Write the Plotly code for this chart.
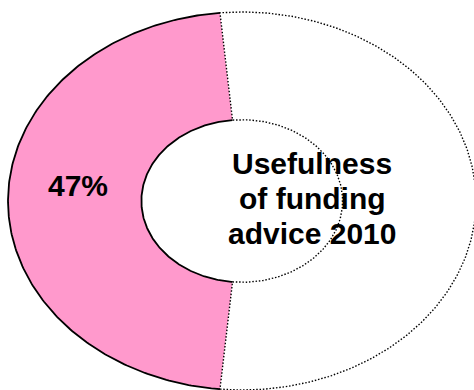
import numpy as np
import plotly.graph_objects as go

# Share of respondents per answer
categories = ["Useful", "Not useful"]
values = [47, 53]
slice_labels = ["47%", ""]
chart_title_lines = ["Usefulness", "of funding", "advice 2010"]

fill_colors = ["#FF99CC", "#FFFFFF"]
HOLE = 0.43          # inner radius as a share of the outer radius
FIRST_CENTRE = 180.0  # angle (deg, counter-clockwise from 3 o'clock) of the first slice's centre

total = float(sum(values))
spans = [v / total * 360.0 for v in values]
start = FIRST_CENTRE - spans[0] / 2.0
bounds = []
for s in spans:
    bounds.append((start, start + s))
    start += s


def arc(r, a0, a1, n=240):
    t = np.radians(np.linspace(a0, a1, n))
    return r * np.cos(t), r * np.sin(t)


fig = go.Figure()

# Filled ring sectors
for (a0, a1), col in zip(bounds, fill_colors):
    ox, oy = arc(1.0, a0, a1)
    ix, iy = arc(HOLE, a1, a0)
    fig.add_trace(go.Scatter(
        x=np.concatenate([ox, ix, ox[:1]]), y=np.concatenate([oy, iy, oy[:1]]),
        mode="lines", fill="toself", fillcolor=col,
        line=dict(width=0), hoverinfo="skip", showlegend=False))

# Dotted outline of the second sector (including both radial edges)
a0, a1 = bounds[1]
ox, oy = arc(1.0, a0, a1)
ix, iy = arc(HOLE, a1, a0)
fig.add_trace(go.Scatter(
    x=np.concatenate([ox, ix, ox[:1]]), y=np.concatenate([oy, iy, oy[:1]]),
    mode="lines", line=dict(color="black", width=1.4, dash="1.5px,1.8px"),
    hoverinfo="skip", showlegend=False))

# Solid outer and inner arcs of the first sector
a0, a1 = bounds[0]
for r in (1.0, HOLE):
    x, y = arc(r, a0, a1)
    fig.add_trace(go.Scatter(
        x=x, y=y, mode="lines", line=dict(color="black", width=1.8),
        hoverinfo="skip", showlegend=False))

# Percentage label in the middle of the first sector
mid = np.radians((bounds[0][0] + bounds[0][1]) / 2.0)
r_lab = 0.70
fig.add_annotation(
    x=r_lab * np.cos(mid), y=r_lab * np.sin(mid) + 0.08,
    text="<b>%s</b>" % slice_labels[0], showarrow=False,
    font=dict(family="Liberation Sans, Arial", size=30, color="black"),
    xanchor="center", yanchor="middle")

# Title inside the ring, one line per annotation for tight spacing
line_ys = [0.20, 0.015, -0.17]
for txt, yy in zip(chart_title_lines, line_ys):
    fig.add_annotation(
        x=0.30, y=yy, text="<b>%s</b>" % txt, showarrow=False,
        font=dict(family="Liberation Sans, Arial", size=30, color="black"),
        xanchor="center", yanchor="middle")

fig.update_layout(
    width=474, height=390,
    margin=dict(l=0, r=0, t=0, b=0),
    paper_bgcolor="white", plot_bgcolor="white",
    xaxis=dict(range=[-1.0342, 0.9915], visible=False, fixedrange=True),
    yaxis=dict(range=[-1.0, 1.0635], visible=False, fixedrange=True),
)

fig.write_html("out.html")
